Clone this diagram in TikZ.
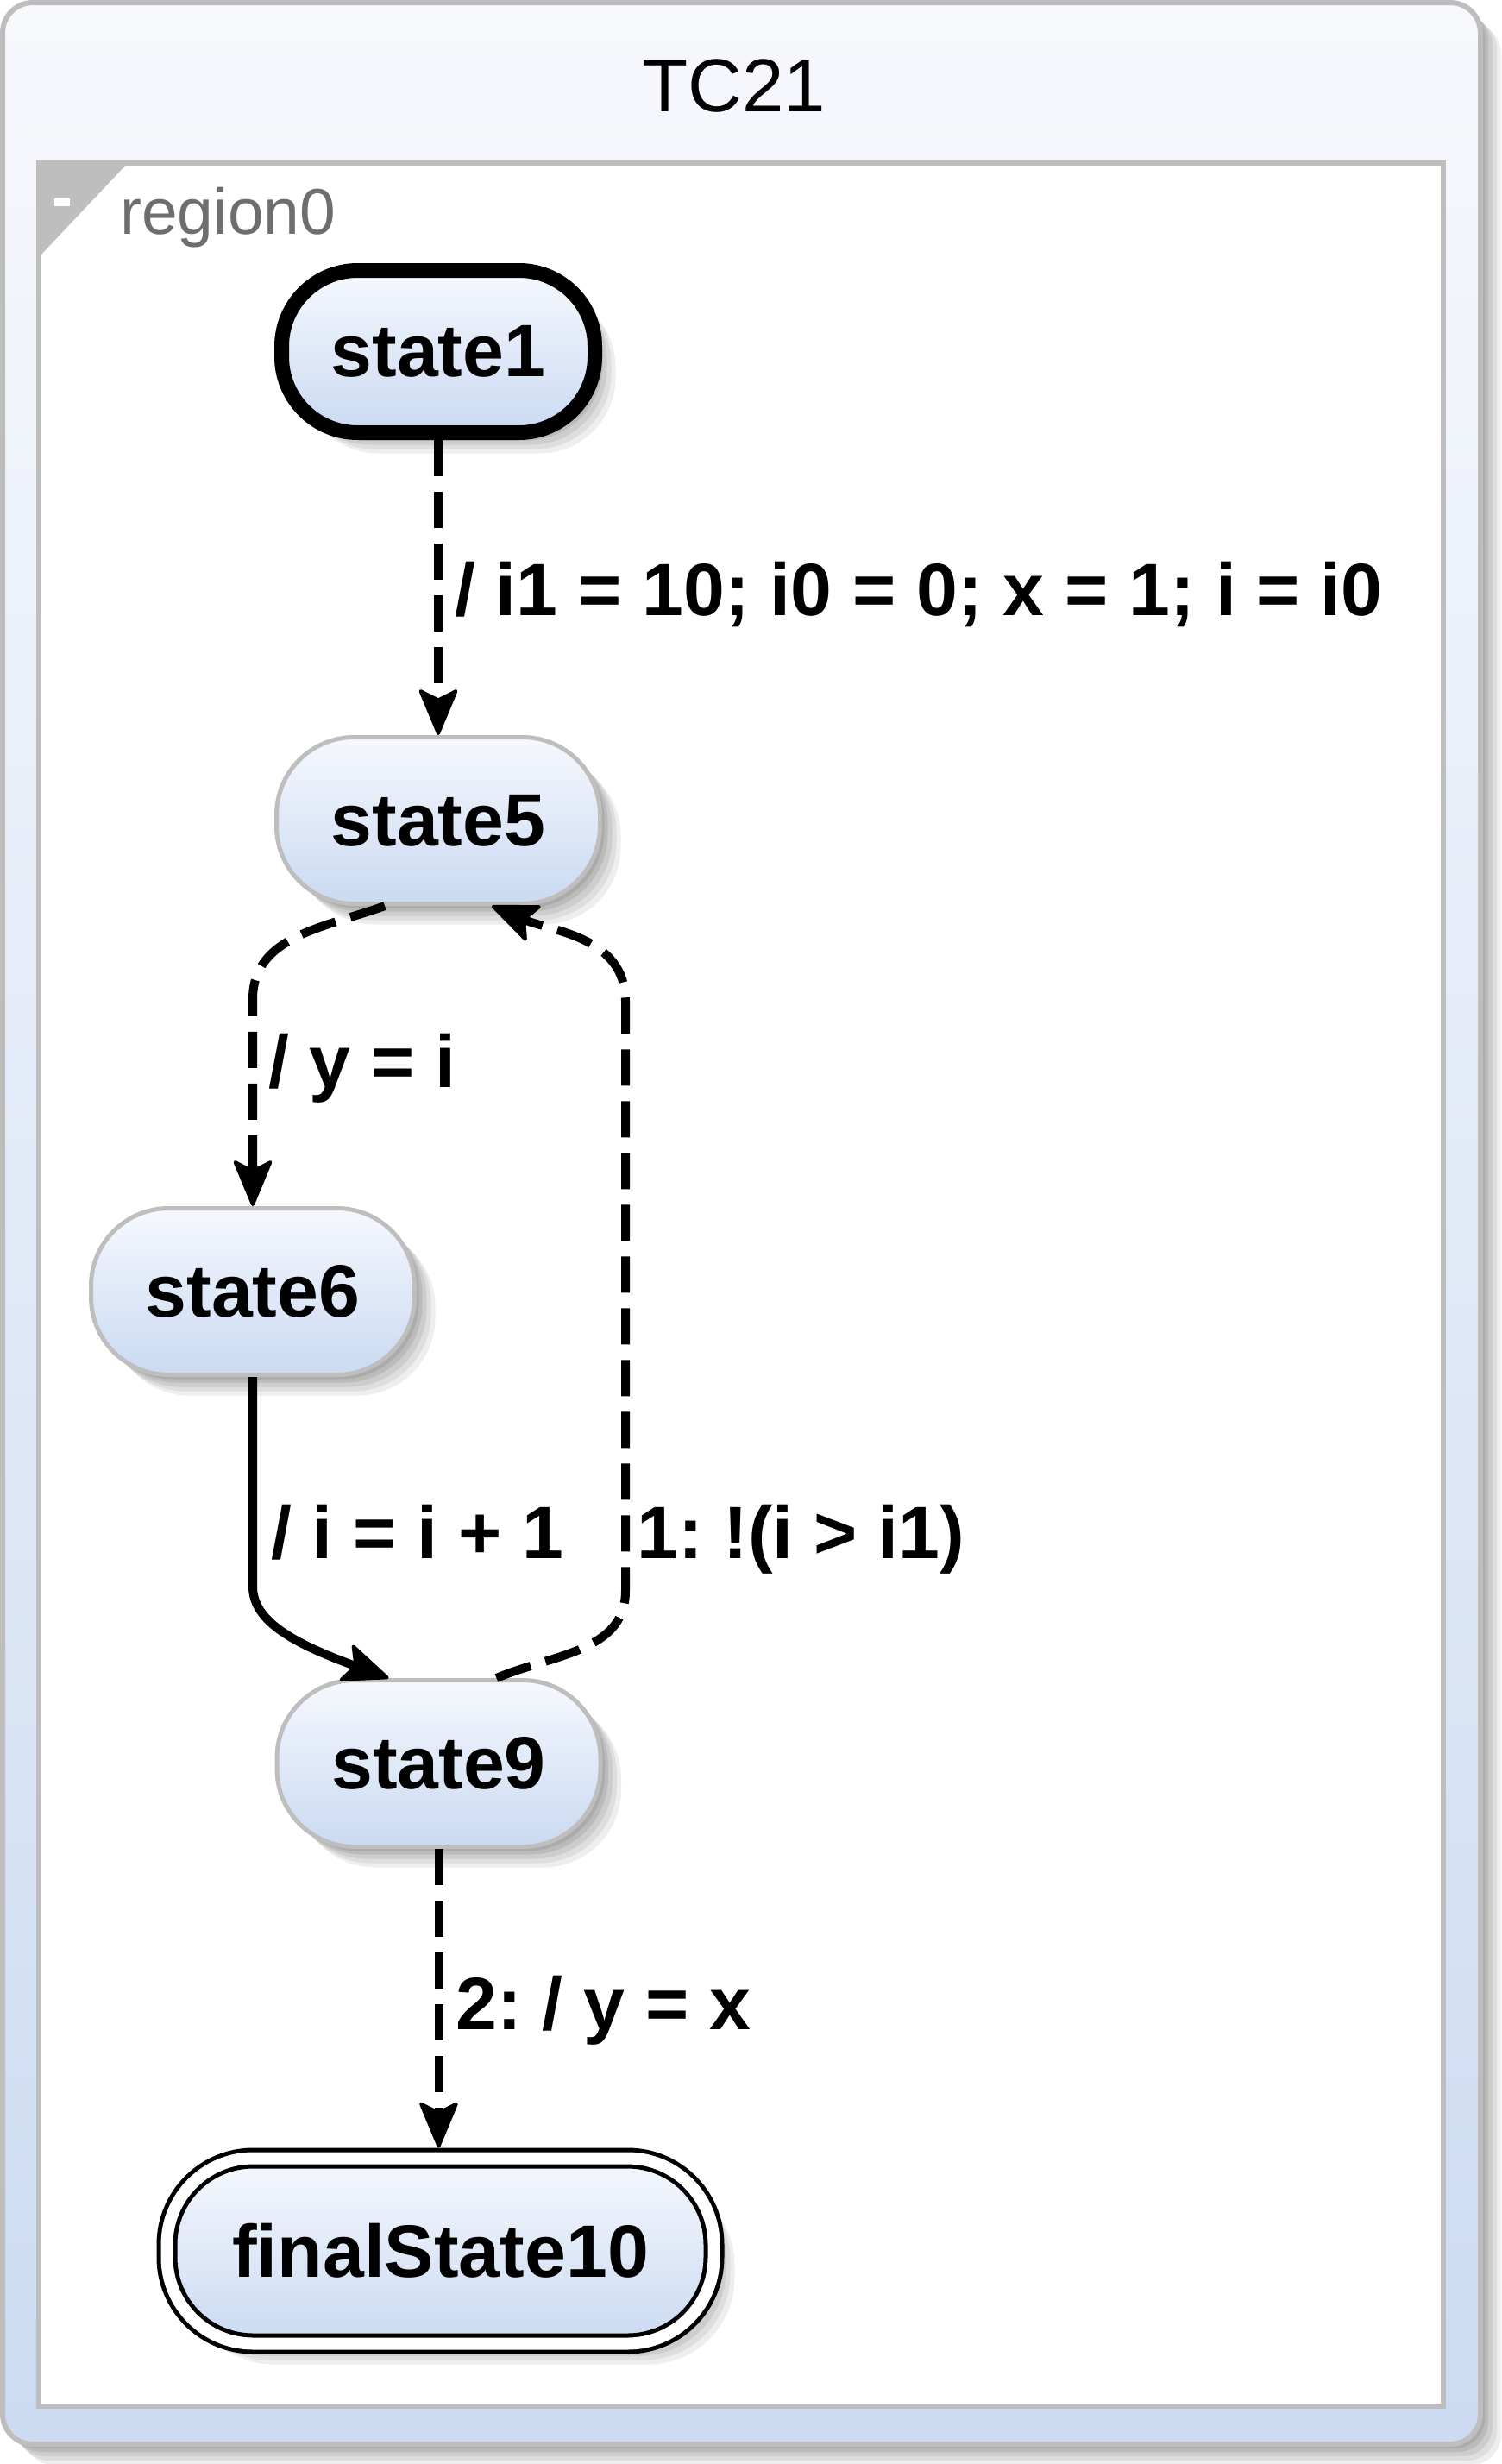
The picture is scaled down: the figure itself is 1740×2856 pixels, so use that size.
\documentclass[tikz,border=0pt]{standalone}
\usepackage{fontspec}
\setmainfont{Liberation Sans}
\usetikzlibrary{arrows.meta}
\frenchspacing
\definecolor{bordergray}{HTML}{BEBEBE}
\definecolor{gradtop}{HTML}{F6F8FD}
\definecolor{gradbot}{HTML}{CADAF2}
\definecolor{boxtop}{HTML}{F7F8FC}
\definecolor{boxbot}{HTML}{CCDBF2}
\definecolor{labelgray}{HTML}{6E6E6E}
\definecolor{shA}{HTML}{EEEEEE}
\definecolor{shB}{HTML}{DEDEDE}
\definecolor{shC}{HTML}{CDCDCD}
\definecolor{shD}{HTML}{BBBBBB}
\definecolor{shE}{HTML}{ABABAB}
\tikzset{
  shadowed/.style={
    preaction={fill=shA, transform canvas={xshift=24pt,yshift=-24pt}},
    preaction={fill=shB, transform canvas={xshift=19pt,yshift=-19pt}},
    preaction={fill=shC, transform canvas={xshift=14pt,yshift=-14pt}},
    preaction={fill=shD, transform canvas={xshift=9pt,yshift=-9pt}},
    preaction={fill=shE, transform canvas={xshift=5pt,yshift=-5pt}}},
  statebox/.style={shadowed, shape=rectangle, rounded corners=90pt,
    minimum width=375pt, minimum height=193pt, inner sep=0pt,
    draw=bordergray, line width=5pt, top color=gradtop, bottom color=gradbot,
    font=\fontsize{86pt}{100pt}\selectfont\bfseries},
  initbox/.style={statebox, draw=black, line width=17pt,
    minimum width=363pt, minimum height=188pt, rounded corners=88pt},
  finalbox/.style={statebox, draw=black, line width=5pt, double=white,
    double distance=14pt, minimum width=634pt, minimum height=215pt,
    rounded corners=100pt, outer sep=12pt},
  trans/.style={line width=10pt, draw=black},
  dashtrans/.style={trans, dash pattern=on 42pt off 18pt},
  arrowtip/.style={-{Stealth[length=58pt,width=48pt,inset=12pt,line width=4pt,round]}},
  lbl/.style={inner sep=0pt, anchor=base west, font=\fontsize{86pt}{100pt}\selectfont\bfseries}
}
\begin{document}
\begin{tikzpicture}[x=1pt,y=1pt]
\useasboundingbox (0,0) rectangle (1740,-2856);
% outer container
\node[shadowed, draw=bordergray, line width=6pt, rounded corners=35pt,
  top color=boxtop, bottom color=boxbot, minimum width=1713pt,
  minimum height=2830pt, inner sep=0pt] (tc21) at (859.5,-1418) {};
\node[font=\fontsize{87pt}{100pt}\selectfont] (title) at (851,-100) {TC21};
% region
\node[draw=bordergray, line width=6pt, fill=white, minimum width=1628pt,
  minimum height=2600pt, inner sep=0pt] (region) at (859,-1489) {};
\fill[bordergray] (45,-189) -- (148,-189) -- (45,-298) -- cycle;
\fill[white] (63,-230) rectangle (81,-239);
\node[inner sep=0pt, anchor=base west, text=labelgray,
  font=\fontsize{75pt}{90pt}\selectfont] (rlabel) at (139,-271) {region0};
% states
\node[initbox] (s1) at (508,-407.5) {state1};
\node[statebox] (s5) at (508,-951) {state5};
\node[statebox] (s6) at (293,-1497) {state6};
\node[statebox] (s9) at (508.5,-2044) {state9};
\node[finalbox] (fin) at (510.5,-2609) {finalState10};
% helper coordinates
\coordinate (a1) at ([xshift=-62pt]s5.south);
\coordinate (a2) at ([yshift=240pt]s6.north);
\coordinate (b1) at ([xshift=67pt]s9.north);
\coordinate (b2) at (725,-1844);
\coordinate (b3) at (725,-1160);
\coordinate (b4) at ([xshift=62pt]s5.south);
\coordinate (d1) at ([yshift=-243pt]s6.south);
\coordinate (d2) at ([xshift=-58pt]s9.north);
% transitions
\draw[dashtrans, arrowtip] (s1.south) -- (s5.north);
\draw[dashtrans, arrowtip] (a1) to[out=200,in=90] (a2) -- (s6.north);
\draw[dashtrans, arrowtip] (b1) to[out=23,in=-90] (b2) -- (b3) to[out=90,in=-23] (b4);
\draw[trans, arrowtip] (s6.south) -- (d1)
  .. controls ([yshift=-40pt]d1) and ([xshift=-110pt,yshift=40pt]d2) .. (d2);
\draw[dashtrans, arrowtip] (s9.south) -- (s9.south |- fin.north);
% labels
\node[lbl] (l1) at (527,-713) {/ i1 = 10; i0 = 0; x = 1; i = i0};
\node[lbl] (l2) at (311,-1260) {/ y = i};
\node[lbl] (l3) at (314,-1806) {/ i = i + 1};
\node[lbl] (l4) at (738,-1806) {1: !(i > i1)};
\node[lbl] (l5) at (528,-2352) {2: / y = x};
\end{tikzpicture}
\end{document}
